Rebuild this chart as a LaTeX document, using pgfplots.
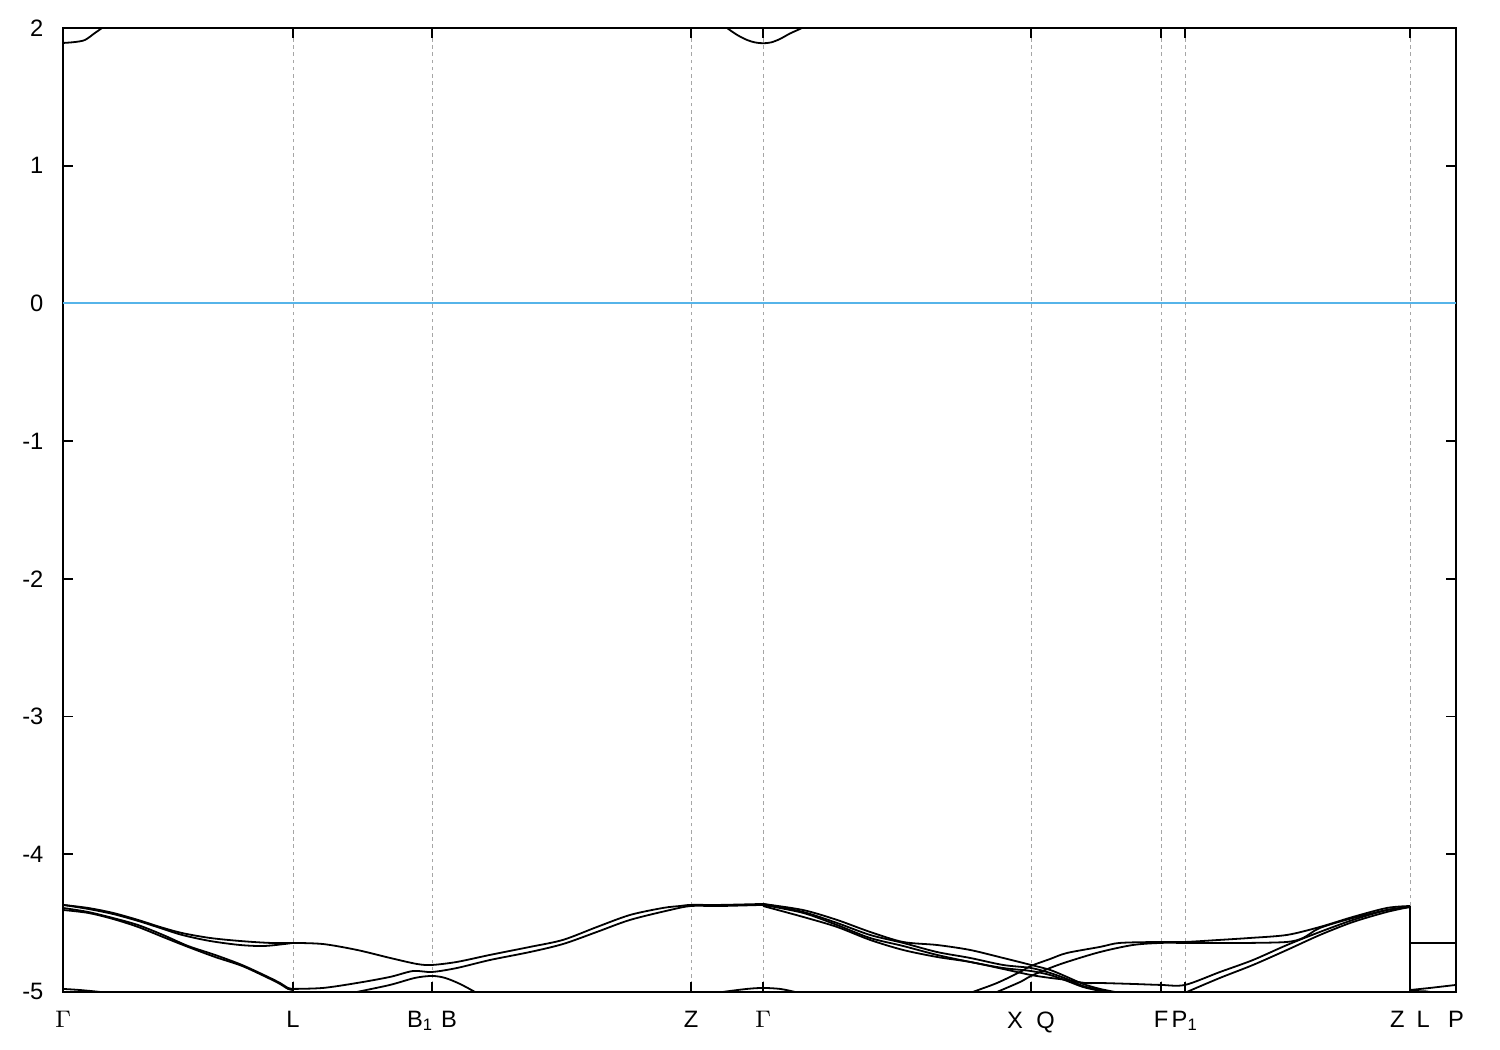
\documentclass[border=0pt]{standalone}
\usepackage{pgfplots}
\pgfplotsset{compat=1.18}
\usepackage{fontspec}
\setmainfont{Liberation Sans}
\definecolor{zeroblue}{RGB}{86,180,233}
\pgfplotsset{band/.style={black, line width=0.6pt, mark=none, smooth, tension=0.5},
             bandl/.style={black, line width=0.6pt, mark=none}}
\begin{document}
\begin{tikzpicture}
\begin{axis}[
  scale only axis,
  width=464.33pt, height=321.33pt,
  xmin=63, xmax=1456, ymin=-5, ymax=2,
  xtick={63,293,432,691,763,1031,1161,1185,1410,1456},
  xticklabels={$\Gamma$,L,B\textsubscript{1}\hspace{2.5pt}B,Z,$\Gamma$,X\hspace{4.5pt}Q,F,P\textsubscript{1},Z\hspace{4pt}L,P},
  ytick={-5,-4,-3,-2,-1,0,1,2},
  yticklabels={-5,-4,-3,-2,-1,0,1,2},
  tick align=inside,
  major tick length=3.33pt,
  tick style={line width=0.6pt, black},
  axis line style={line width=0.6pt},
  xmajorgrids,
  grid style={gray!70, line width=0.3pt, dash pattern=on 1.2pt off 1.2pt},
  ticklabel style={font=\fontsize{7.9}{9.5}\selectfont},
  xticklabel style={yshift=-3pt},
  yticklabel style={xshift=-3pt},
]
\addplot[draw=zeroblue, color=zeroblue, line width=0.6pt, mark=none] coordinates {(63,0) (1456,0)};
% conduction band near Gamma
\addplot[band] coordinates {(63,1.891) (75,1.898) (85,1.913) (95,1.964) (102,2.0) (106,2.03)};
\addplot[band] coordinates {(720,2.04) (727,2.0) (737,1.95) (747,1.913) (755,1.895) (763,1.889) (771,1.895) (780,1.92) (790,1.96) (802,2.0) (808,2.03)};
% Gamma - L
\addplot[band] coordinates {(63,-4.368) (88,-4.390) (113,-4.426) (138,-4.477) (160,-4.528) (182,-4.572) (210,-4.608) (240,-4.630) (270,-4.644) (293,-4.644)};
\addplot[band] coordinates {(63,-4.368) (88,-4.397) (113,-4.434) (138,-4.484) (160,-4.535) (182,-4.586) (210,-4.630) (240,-4.659) (265,-4.666) (293,-4.644)};
\addplot[band] coordinates {(63,-4.390) (88,-4.419) (113,-4.463) (138,-4.514) (163,-4.586) (188,-4.666) (215,-4.731) (242,-4.804) (268,-4.891) (280,-4.935) (288,-4.971) (293,-4.978)};
\addplot[band] coordinates {(63,-4.405) (88,-4.426) (113,-4.470) (138,-4.528) (163,-4.601) (188,-4.673) (215,-4.746) (242,-4.811) (268,-4.898) (280,-4.942) (288,-4.978) (293,-4.986)};
\addplot[band] coordinates {(63,-4.978) (80,-4.986) (100,-5.0) (115,-5.015)};
% L - B - Z - Gamma
\addplot[band] coordinates {(293,-4.644) (323,-4.652) (357,-4.695) (390,-4.753) (417,-4.797) (432,-4.804) (457,-4.782) (490,-4.731) (530,-4.673) (563,-4.622) (597,-4.528) (630,-4.441) (663,-4.390) (680,-4.376) (691,-4.368) (720,-4.368) (763,-4.361)};
\addplot[band] coordinates {(293,-4.978) (323,-4.971) (357,-4.935) (390,-4.891) (413,-4.848) (432,-4.855) (457,-4.826) (490,-4.768) (530,-4.710) (563,-4.652) (597,-4.564) (630,-4.477) (670,-4.405) (691,-4.376) (720,-4.376) (763,-4.368)};
\addplot[band] coordinates {(345,-5.02) (357,-5.0) (390,-4.949) (415,-4.898) (432,-4.884) (445,-4.898) (460,-4.942) (475,-5.0) (480,-5.02)};
% bottom near Gamma
\addplot[band] coordinates {(710,-5.02) (723,-5.0) (747,-4.978) (763,-4.971) (780,-4.978) (795,-5.0) (805,-5.02)};
% Gamma - X and beyond
\addplot[band] coordinates {(763,-4.361) (803,-4.405) (837,-4.477) (870,-4.564) (903,-4.637) (937,-4.659) (970,-4.695) (1003,-4.753) (1031,-4.804) (1050,-4.840) (1067,-4.891) (1083,-4.942) (1100,-4.978) (1120,-5.007)};
\addplot[band] coordinates {(763,-4.361) (803,-4.419) (837,-4.499) (870,-4.586) (903,-4.644) (937,-4.710) (970,-4.753) (1003,-4.804) (1031,-4.826) (1050,-4.862) (1067,-4.906) (1083,-4.957) (1100,-4.986) (1115,-5.007)};
\addplot[band] coordinates {(763,-4.368) (803,-4.426) (837,-4.514) (870,-4.608) (903,-4.666) (937,-4.731) (970,-4.782) (1003,-4.826) (1031,-4.848) (1050,-4.877) (1067,-4.920) (1083,-4.964) (1100,-4.993) (1110,-5.015)};
\addplot[band] coordinates {(763,-4.376) (803,-4.455) (837,-4.528) (870,-4.622) (903,-4.695) (937,-4.746) (970,-4.782) (1003,-4.833) (1031,-4.877) (1050,-4.898) (1067,-4.913) (1085,-4.935) (1100,-4.935) (1133,-4.942) (1161,-4.949) (1185,-4.949) (1220,-4.855) (1253,-4.768) (1287,-4.659) (1320,-4.564) (1353,-4.477) (1387,-4.405) (1410,-4.383)};
\addplot[band] coordinates {(965,-5.03) (973,-5.0) (997,-4.935) (1020,-4.855) (1031,-4.811) (1050,-4.761) (1067,-4.717) (1100,-4.673) (1120,-4.644) (1161,-4.637) (1185,-4.637) (1220,-4.622) (1250,-4.608) (1287,-4.586) (1320,-4.528) (1353,-4.455) (1387,-4.390) (1410,-4.376)};
\addplot[band] coordinates {(990,-5.02) (997,-5.0) (1020,-4.928) (1031,-4.884) (1050,-4.826) (1067,-4.782) (1100,-4.710) (1133,-4.659) (1161,-4.644) (1185,-4.644) (1220,-4.644) (1250,-4.644) (1287,-4.637) (1303,-4.608) (1320,-4.535) (1353,-4.463) (1387,-4.405) (1410,-4.383)};
\addplot[band] coordinates {(1183,-5.02) (1187,-5.0) (1220,-4.898) (1253,-4.804) (1287,-4.695) (1320,-4.586) (1353,-4.492) (1387,-4.419) (1410,-4.383)};
% Z|L - P
\addplot[bandl] coordinates {(1410,-4.376) (1410,-4.644) (1456,-4.644)};
\addplot[bandl] coordinates {(1410,-4.383) (1410,-4.986) (1430,-4.971) (1456,-4.949)};
\addplot[bandl] coordinates {(1410,-4.993) (1425,-4.995) (1440,-5.01)};
\end{axis}
\path (current axis.south west) ++(-21pt,-19.33pt) coordinate (bbsw);
\path (current axis.north east) ++(14.67pt,9.33pt) coordinate (bbne);
\end{tikzpicture}
\end{document}
